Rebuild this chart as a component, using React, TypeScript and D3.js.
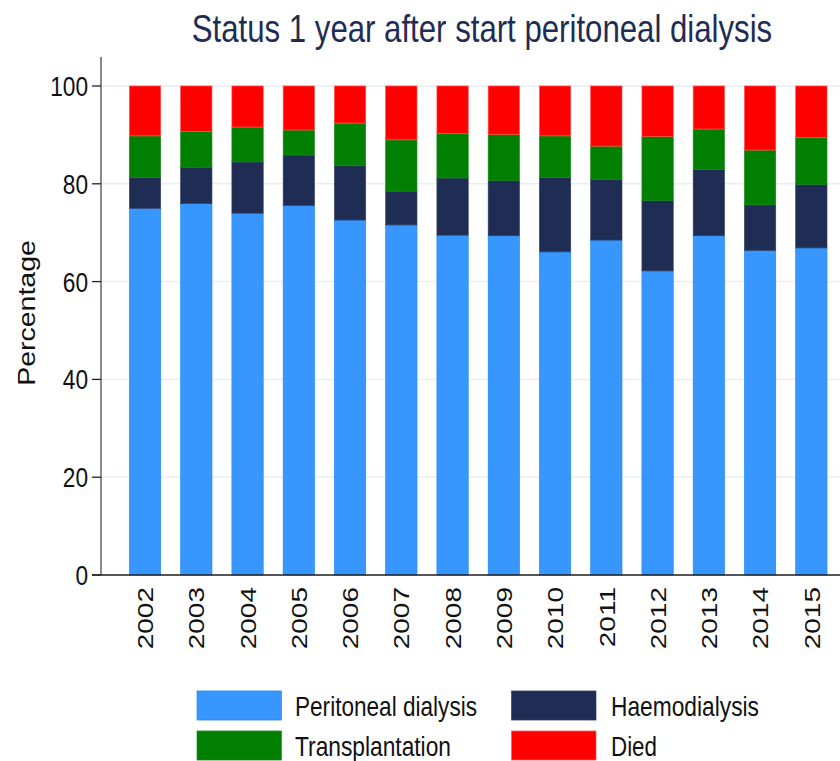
import * as d3 from 'd3';

const years = ['2002', '2003', '2004', '2005', '2006', '2007', '2008', '2009', '2010', '2011', '2012', '2013', '2014', '2015'];
const peritoneal = [75.0, 76.0, 74.0, 75.6, 72.6, 71.6, 69.5, 69.4, 66.1, 68.5, 62.2, 69.4, 66.4, 66.9];
const haemo = [6.3, 7.4, 10.5, 10.3, 11.1, 6.9, 11.7, 11.3, 15.2, 12.4, 14.4, 13.5, 9.3, 13.0];
const transplant = [8.5, 7.3, 7.1, 5.1, 8.7, 10.5, 9.1, 9.4, 8.5, 6.8, 13.1, 8.3, 11.2, 9.6];
const died = [10.2, 9.3, 8.4, 9.0, 7.6, 11.0, 9.7, 9.9, 10.2, 12.3, 10.3, 8.8, 13.1, 10.5];
const yTicks = [0, 20, 40, 60, 80, 100];

const seriesKeys = ['pd', 'hd', 'tx', 'died'];
const seriesLabels = ['Peritoneal dialysis', 'Haemodialysis', 'Transplantation', 'Died'];
const colors = ['#3797fe', '#1f2d54', '#007f00', '#ff0000'];
const strokes = ['#1f86f5', '#34405f', '#1a8a1a', '#ff5050'];

// the original is squeezed horizontally, so draw in a wider virtual space
const S = 0.81;
const W = 840;
const H = 761;
const VW = W / S;
const vx = (x: number) => x / S;

const rows = years.map((y, i) => ({
  year: y,
  pd: peritoneal[i],
  hd: haemo[i],
  tx: transplant[i],
  died: died[i],
}));

const App = () => {
  const x = d3
    .scaleBand<string>()
    .domain(years)
    .range([vx(101), vx(855.4)])
    .paddingInner(0.389)
    .paddingOuter(0.554);

  const y = d3.scaleLinear().domain([0, 100]).range([575, 86]);

  const stacked = d3.stack<any>().keys(seriesKeys)(rows);

  const font = '"Liberation Sans", Arial, sans-serif';

  const legend = [
    { i: 0, bx: 197, by: 691, tx: 295, len: 182 },
    { i: 1, bx: 511.5, by: 691, tx: 611, len: 148 },
    { i: 2, bx: 197, by: 731, tx: 295, len: 156 },
    { i: 3, bx: 511.5, by: 731, tx: 611, len: 46 },
  ];

  return (
    <>
      <style>{`body{margin:0}`}</style>
      <svg
        width={W}
        height={H}
        viewBox={`0 0 ${VW} ${H}`}
        preserveAspectRatio="none"
        style={{ display: 'block', background: '#fff' }}
        fontFamily={font}
      >
        {/* gridlines */}
        {yTicks.map((t) => (
          <line key={'g' + t} x1={vx(101)} x2={VW} y1={y(t)} y2={y(t)} stroke="#e6eff1" strokeWidth={1.5} />
        ))}

        {/* bars */}
        {stacked.map((s, si) => (
          <g key={s.key}>
            {s.map((d, i) => (
              <rect
                key={years[i]}
                x={x(years[i])}
                width={x.bandwidth()}
                y={y(d[1])}
                height={y(d[0]) - y(d[1])}
                fill={colors[si]}
                stroke={strokes[si]}
                strokeWidth={0.8}
              />
            ))}
          </g>
        ))}

        {/* y axis */}
        <line x1={vx(101)} x2={vx(101)} y1={57} y2={575} stroke="#222" strokeWidth={1.3} />
        {yTicks.map((t) => (
          <g key={'t' + t}>
            <line x1={vx(92)} x2={vx(101)} y1={y(t)} y2={y(t)} stroke="#222" strokeWidth={1.3} />
            <text x={vx(88)} y={y(t)} dy="0.36em" textAnchor="end" fontSize={28} fill="#111">
              {t}
            </text>
          </g>
        ))}

        {/* x axis */}
        <line x1={vx(92)} x2={VW} y1={575} y2={575} stroke="#222" strokeWidth={1.3} />
        {years.map((yr) => {
          const cx = (x(yr) ?? 0) + x.bandwidth() / 2;
          return (
            <text
              key={'x' + yr}
              transform={`translate(${cx},587) rotate(-90)`}
              dy="0.36em"
              textAnchor="end"
              fontSize={28}
              fill="#111"
            >
              {yr}
            </text>
          );
        })}

        {/* y title */}
        <text
          transform={`translate(${vx(27)},313) rotate(-90)`}
          dy="0.36em"
          textAnchor="middle"
          fontSize={28.5}
          fill="#111"
        >
          Percentage
        </text>

        {/* title */}
        <text x={vx(482)} y={42} textAnchor="middle" fontSize={38.5} fill="#1f2d54">
          Status 1 year after start peritoneal dialysis
        </text>

        {/* legend */}
        {legend.map((l) => (
          <g key={'l' + l.i}>
            <rect
              x={vx(l.bx)}
              y={l.by}
              width={vx(84.5)}
              height={29}
              fill={colors[l.i]}
              stroke={strokes[l.i]}
              strokeWidth={0.8}
            />
            <text
              x={vx(l.tx)}
              y={l.by + 14.5}
              dy="0.36em"
              fontSize={28.5}
              fill="#111"
              textLength={vx(l.len)}
              lengthAdjust="spacingAndGlyphs"
            >
              {seriesLabels[l.i]}
            </text>
          </g>
        ))}
      </svg>
    </>
  );
};

export default App;
